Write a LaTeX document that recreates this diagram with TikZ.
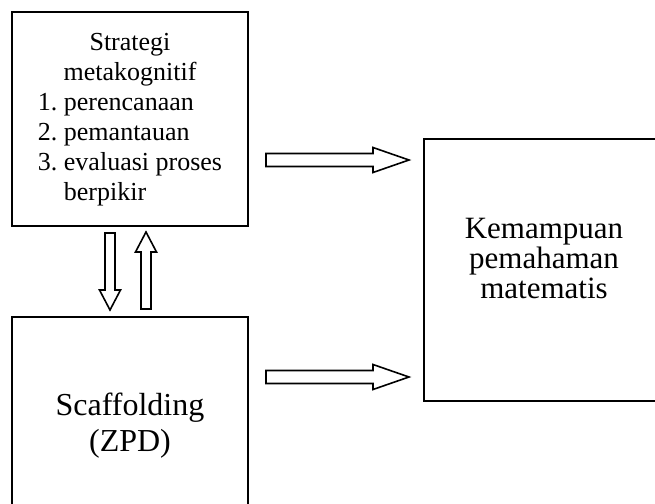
\documentclass[tikz,border=0pt]{standalone}
\usepackage{fontspec}
\setmainfont{Liberation Serif}
\usetikzlibrary{calc}
\tikzstyle{boite}           =[draw, line width=1pt, anchor=north west, inner sep=0pt, outer sep=0pt]
\tikzstyle{trait}           =[line width=0.8pt, line join=miter]
\tikzset{
  pics/fleche/.style args={#1/#2/#3/#4}{code={ %longueur/longueur de la pointe/demi-largeur du corps/demi-largeur de la pointe
    \draw[trait] (0,-#3) -- ({#1-#2},-#3) -- ({#1-#2},-#4) -- (#1,0) -- ({#1-#2},#4) -- ({#1-#2},#3) -- (0,#3) -- cycle;
  }}
}

\begin{document}
\begin{tikzpicture}[x=0.5pt,y=-0.5pt]

\clip (0,0) rectangle (655,504); %cadre de la figure

%les boîtes
\node[boite, minimum width=118pt, minimum height=107pt, font=\fontsize{13}{15}\selectfont] (strat) at (12,12) {\begin{tabular}{@{}r@{~}l@{}}
\multicolumn{2}{c}{Strategi}\\
\multicolumn{2}{c}{metakognitif}\\
1. & perencanaan\\
2. & pemantauan\\
3. & evaluasi proses\\
   & berpikir
\end{tabular}};

\node[boite, minimum width=118pt, minimum height=109pt, align=center, font=\fontsize{16}{18}\selectfont] (scaf) at (12,317) {Scaffolding\\(ZPD)};

\node[boite, minimum width=120pt, minimum height=131pt] (kem) at (424,139) {};
\node[align=center, font=\fontsize{15.5}{15}\selectfont] (kemTexte) at ($(kem.center)+(0,-12)$) {Kemampuan\\pemahaman\\matematis};

%les flèches creuses
\pic at ($(strat.north east)+(18,148)$) {fleche=143/36/6.5/12.5};
\pic at ($(scaf.north east)+(18,60)$) {fleche=143/36/6.5/12.5};
\pic[rotate=-90] at ($(strat.south west)+(98,7)$) {fleche=77/20/5/10.5};
\pic[rotate=90] at ($(scaf.north west)+(134,-8)$) {fleche=77/20/5/10.5};

\end{tikzpicture}
\end{document}
